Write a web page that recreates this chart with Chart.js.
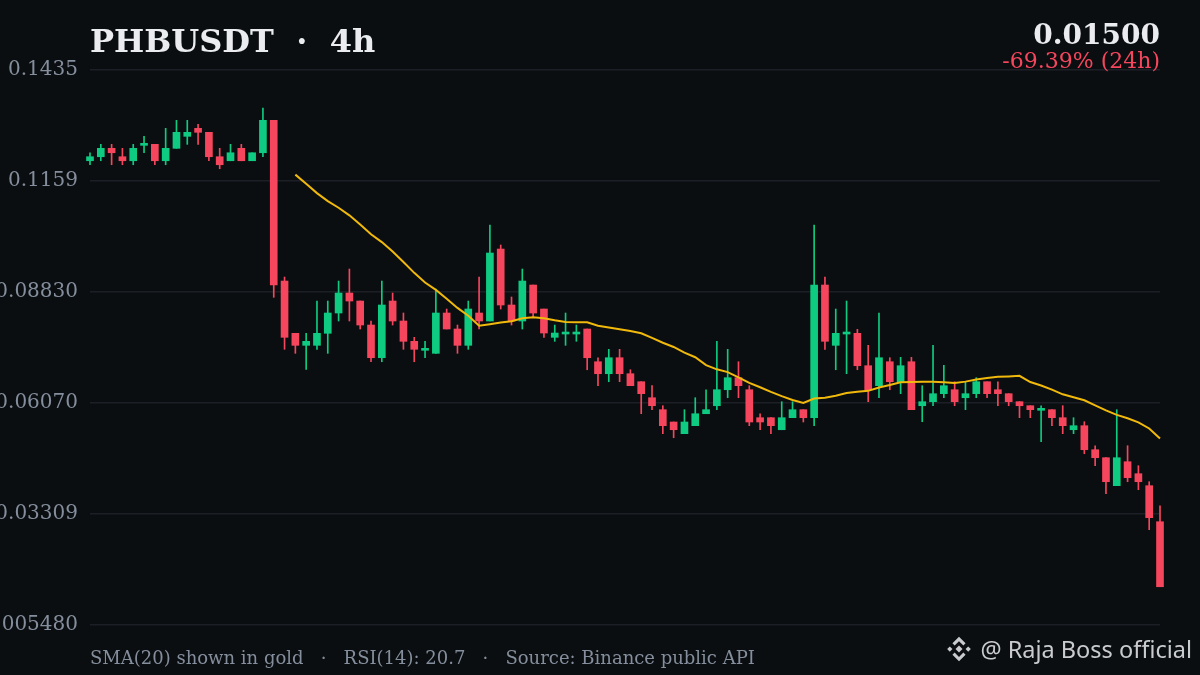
<!DOCTYPE html>
<html>
<head>
<meta charset="utf-8">
<script src="https://cdn.jsdelivr.net/npm/chart.js@4.4.1/dist/chart.umd.min.js"></script>
<style>
  html, body { margin: 0; padding: 0; background: #0b0e11; }
  #wrap { position: relative; width: 1200px; height: 675px; background: #0b0e11; overflow: hidden; }
  .txt { position: absolute; line-height: 1; white-space: pre; }
  #title { left: 90px; top: 22px; font: bold 32px "DejaVu Serif", serif; color: #eaecef; }
  #price { right: 40px; top: 18px; font: bold 28px "DejaVu Serif", serif; color: #eaecef; }
  #change { right: 40px; top: 48px; font: 22px "DejaVu Serif", serif; color: #f6465d; }
  #footer { left: 90px; top: 647px; font: 18px "DejaVu Serif", serif; color: #848e9c; }
  #brand { right: 8px; top: 633px; font: 23.5px "Noto Sans", sans-serif; color: #c9cbce; }
  #logo { position: absolute; left: 945px; top: 635px; width: 28px; height: 28px; }
</style>
</head>
<body>
<div id="wrap">
  <canvas id="candleChart" width="1200" height="675"></canvas>
  <div class="txt" id="title">PHBUSDT  ·  4h</div>
  <div class="txt" id="price">0.01500</div>
  <div class="txt" id="change">-69.39% (24h)</div>
  <div class="txt" id="footer">SMA(20) shown in gold   ·   RSI(14): 20.7   ·   Source: Binance public API</div>
  <svg id="logo" viewBox="0 0 32 32">
    <g fill="#c9cbce">
      <path d="M16 2 L23.5 9.5 L21 12 L16 7 L11 12 L8.5 9.5 Z"/>
      <path d="M16 30 L8.5 22.5 L11 20 L16 25 L21 20 L23.5 22.5 Z"/>
      <path d="M16 12 L20 16 L16 20 L12 16 Z"/>
      <path d="M5.5 13 L8.5 16 L5.5 19 L2.5 16 Z"/>
      <path d="M26.5 13 L29.5 16 L26.5 19 L23.5 16 Z"/>
    </g>
  </svg>
  <div class="txt" id="brand">@ Raja Boss official</div>
</div>
<script>
// PHBUSDT 4h candles
const opens = [
  0.12095, 0.12195, 0.12404, 0.12195, 0.12095, 0.12478, 0.12503, 0.12095, 0.12404, 0.12702,
  0.12901, 0.12802, 0.12195, 0.12095, 0.12404, 0.12095, 0.12294, 0.13100, 0.09103, 0.07803,
  0.07504, 0.07504, 0.07803, 0.08308, 0.08805, 0.08606, 0.08009, 0.07196, 0.08606, 0.08109,
  0.07604, 0.07380, 0.07305, 0.08308, 0.07910, 0.07504, 0.08308, 0.08109, 0.09899, 0.08507,
  0.08109, 0.09004, 0.08407, 0.07703, 0.07785, 0.07785, 0.07910, 0.07096, 0.06798, 0.07196,
  0.06798, 0.06599, 0.06201, 0.05903, 0.05597, 0.05306, 0.05505, 0.05803, 0.06002, 0.06400,
  0.06699, 0.06400, 0.05704, 0.05704, 0.05405, 0.05704, 0.05903, 0.05704, 0.09004, 0.07504,
  0.07785, 0.07803, 0.06997, 0.06500, 0.07096, 0.06599, 0.07096, 0.06002, 0.06102, 0.06301,
  0.06400, 0.06201, 0.06301, 0.06599, 0.06400, 0.06301, 0.06102, 0.06002, 0.05888, 0.05903,
  0.05704, 0.05405, 0.05505, 0.04908, 0.04709, 0.04013, 0.04609, 0.04311, 0.04013, 0.03117
];
const highs = [
  0.12294, 0.12503, 0.12503, 0.12404, 0.12503, 0.12702, 0.12503, 0.12901, 0.13100, 0.13100,
  0.13001, 0.12802, 0.12404, 0.12503, 0.12503, 0.12294, 0.13406, 0.13100, 0.09203, 0.07803,
  0.07803, 0.08606, 0.08606, 0.09103, 0.09402, 0.08606, 0.08109, 0.09103, 0.08805, 0.08308,
  0.07703, 0.07604, 0.08905, 0.08407, 0.08009, 0.08606, 0.09203, 0.10496, 0.09999, 0.08706,
  0.09402, 0.09004, 0.08407, 0.08009, 0.08308, 0.08009, 0.07910, 0.07196, 0.07405, 0.07405,
  0.06897, 0.06599, 0.06500, 0.06002, 0.05597, 0.05903, 0.06201, 0.06400, 0.07604, 0.07405,
  0.07096, 0.06500, 0.05803, 0.05704, 0.06102, 0.06102, 0.05903, 0.10496, 0.09203, 0.08407,
  0.08606, 0.07902, 0.07504, 0.08308, 0.07196, 0.07206, 0.07206, 0.06500, 0.07504, 0.07007,
  0.06599, 0.06599, 0.06699, 0.06599, 0.06599, 0.06301, 0.06102, 0.06002, 0.06002, 0.05903,
  0.06002, 0.05704, 0.05604, 0.05007, 0.04709, 0.05903, 0.05007, 0.04510, 0.04112, 0.03515
];
const lows = [
  0.11996, 0.12095, 0.11996, 0.11996, 0.11996, 0.12294, 0.11996, 0.11996, 0.12404, 0.12503,
  0.12503, 0.12095, 0.11896, 0.12095, 0.12095, 0.12095, 0.12195, 0.08698, 0.07405, 0.07305,
  0.06907, 0.07405, 0.07305, 0.08109, 0.08109, 0.07910, 0.07096, 0.07096, 0.08009, 0.07405,
  0.07096, 0.07196, 0.07305, 0.07910, 0.07305, 0.07405, 0.07910, 0.08109, 0.08407, 0.08009,
  0.07910, 0.08208, 0.07703, 0.07604, 0.07504, 0.07604, 0.06897, 0.06500, 0.06599, 0.06599,
  0.06500, 0.05803, 0.05903, 0.05306, 0.05206, 0.05306, 0.05505, 0.05803, 0.05903, 0.06201,
  0.06201, 0.05505, 0.05405, 0.05306, 0.05405, 0.05704, 0.05597, 0.05505, 0.07405, 0.06897,
  0.06798, 0.06897, 0.06102, 0.06201, 0.06400, 0.06301, 0.05903, 0.05604, 0.06002, 0.06201,
  0.06002, 0.05903, 0.06201, 0.06201, 0.06002, 0.06002, 0.05704, 0.05704, 0.05107, 0.05505,
  0.05306, 0.05306, 0.04808, 0.04510, 0.03814, 0.04013, 0.04112, 0.03913, 0.02918, 0.01500
];
const closes = [
  0.12195, 0.12404, 0.12294, 0.12095, 0.12404, 0.12518, 0.12095, 0.12404, 0.12802, 0.12802,
  0.12802, 0.12195, 0.11996, 0.12294, 0.12095, 0.12294, 0.13100, 0.09004, 0.07703, 0.07504,
  0.07604, 0.07803, 0.08308, 0.08805, 0.08606, 0.08009, 0.07196, 0.08507, 0.08109, 0.07604,
  0.07405, 0.07405, 0.08308, 0.07910, 0.07504, 0.08407, 0.08109, 0.09800, 0.08507, 0.08109,
  0.09103, 0.08308, 0.07810, 0.07810, 0.07803, 0.07803, 0.07196, 0.06798, 0.07196, 0.06798,
  0.06500, 0.06301, 0.06002, 0.05505, 0.05405, 0.05597, 0.05803, 0.05903, 0.06400, 0.06699,
  0.06500, 0.05597, 0.05597, 0.05505, 0.05704, 0.05903, 0.05704, 0.09004, 0.07604, 0.07803,
  0.07803, 0.06997, 0.06400, 0.07196, 0.06599, 0.06997, 0.05903, 0.06102, 0.06301, 0.06500,
  0.06102, 0.06301, 0.06599, 0.06301, 0.06301, 0.06102, 0.06002, 0.05903, 0.05903, 0.05704,
  0.05505, 0.05505, 0.04908, 0.04709, 0.04112, 0.04709, 0.04212, 0.04112, 0.03217, 0.01500
];
const candleLabels = closes.map((_, i) => String(i + 1));
const yMin = 0.00548;
const yMax = 0.14352;
const yTickCount = 6;

const UP = '#0ecb81';
const DOWN = '#f6465d';
const GOLD = '#f0b90b';

const candleColors = closes.map((c, i) => (c >= opens[i] ? UP : DOWN));
const sma20 = closes.map((_, i) => {
    if (i < 19) return null;
    const win = closes.slice(i - 19, i + 1);
    return win.reduce((a, b) => a + b, 0) / 20;
});

let candleChart;

function initChart() {
    const ctx = document.getElementById('candleChart').getContext('2d');

    candleChart = new Chart(ctx, {
        type: 'bar',
        data: {
            labels: candleLabels,
            datasets: [
                {
                    label: 'Wick',
                    data: lows.map((l, i) => [l, highs[i]]),
                    backgroundColor: candleColors,
                    barThickness: 1,
                    grouped: false,
                    clip: false,
                    order: 3
                },
                {
                    label: 'Body',
                    data: opens.map((o, i) => [o, closes[i]]),
                    backgroundColor: candleColors,
                    barThickness: 7,
                    minBarLength: 2,
                    grouped: false,
                    clip: false,
                    order: 2
                },
                {
                    type: 'line',
                    label: 'SMA(20)',
                    data: sma20,
                    borderColor: GOLD,
                    borderWidth: 2,
                    pointRadius: 0,
                    tension: 0,
                    fill: false,
                    spanGaps: false,
                    order: 1
                }
            ]
        },
        options: {
            responsive: false,
            animation: false,
            devicePixelRatio: 1,
            layout: {
                padding: { top: 70, right: 40, bottom: 50, left: 0 }
            },
            plugins: {
                legend: { display: false },
                tooltip: { enabled: false },
                title: { display: false }
            },
            scales: {
                x: {
                    type: 'category',
                    offset: false,
                    display: false,
                    grid: { display: false }
                },
                y: {
                    min: yMin,
                    max: yMax,
                    afterFit: (scale) => { scale.width = 90; },
                    afterBuildTicks: (scale) => {
                        const step = (yMax - yMin) / (yTickCount - 1);
                        scale.ticks = Array.from({ length: yTickCount }, (_, i) => ({ value: yMin + step * i }));
                    },
                    border: { display: false },
                    grid: {
                        color: '#1c2026',
                        lineWidth: 1.5,
                        drawTicks: false
                    },
                    ticks: {
                        color: '#848e9c',
                        padding: 12,
                        font: { family: 'DejaVu Serif', size: 20 },
                        callback: (v) => Number(v).toPrecision(4)
                    }
                }
            }
        }
    });
}

initChart();
</script>
</body>
</html>
